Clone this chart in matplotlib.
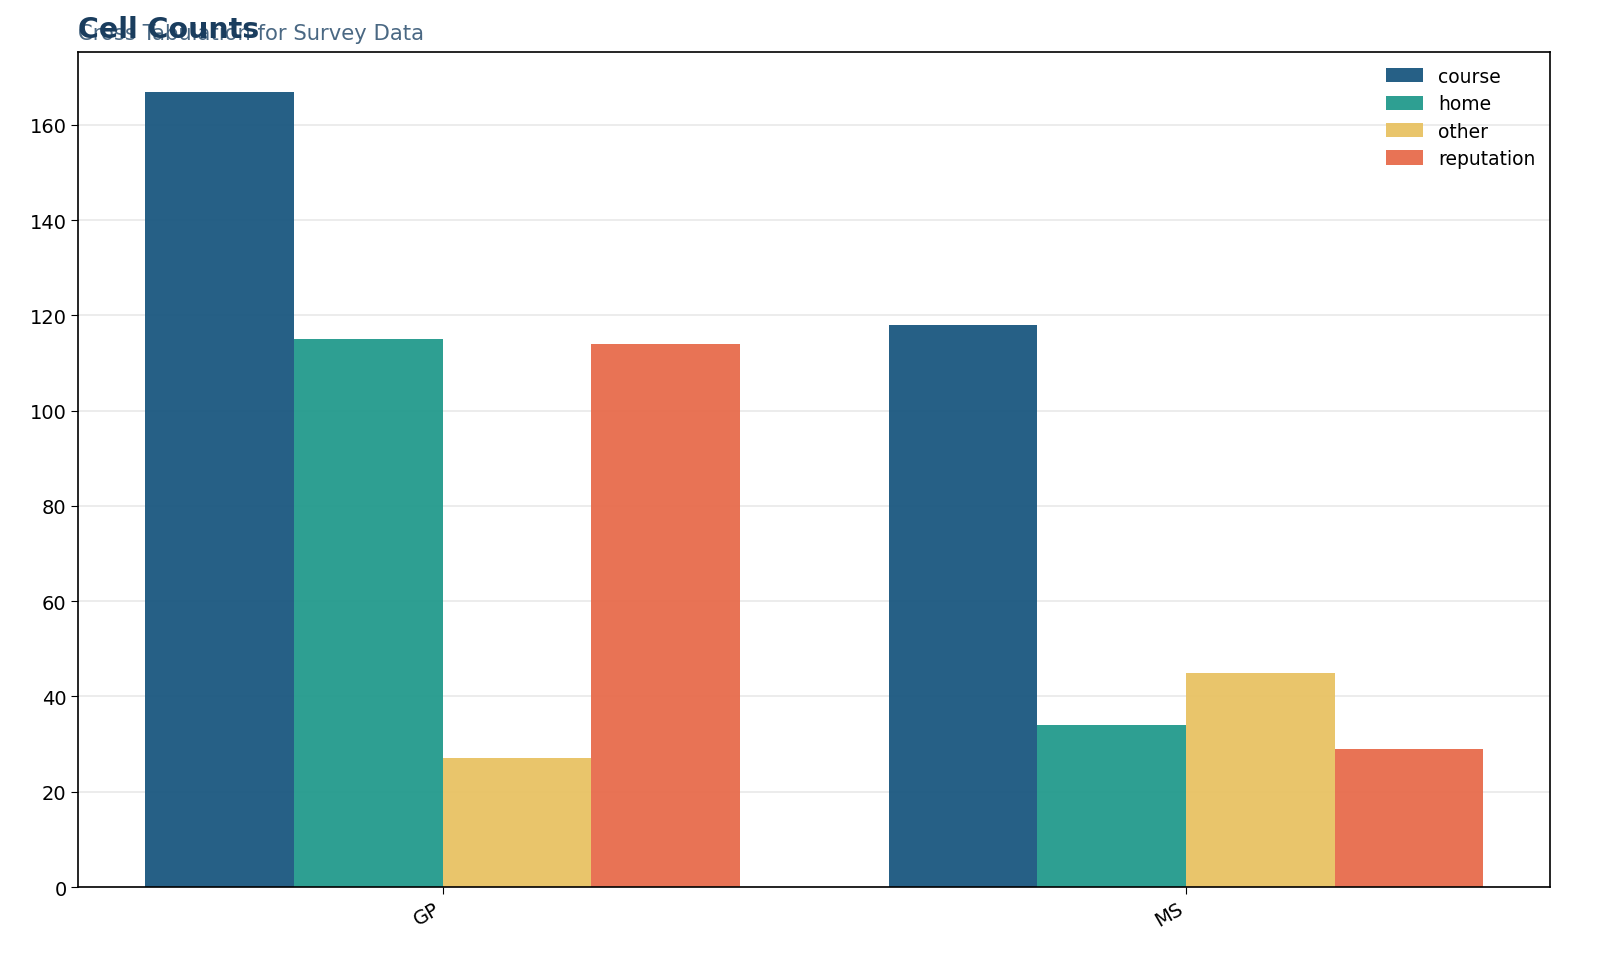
import numpy as np
import matplotlib.pyplot as plt

schools = ['GP', 'MS']
reasons = ['course', 'home', 'other', 'reputation']
course = [167, 118]
home = [115, 34]
other = [27, 45]
reputation = [114, 29]
colors = ['#1a5780', '#239a8c', '#e8c263', '#e76b4c']

counts = [course, home, other, reputation]

fig, ax = plt.subplots(figsize=(16, 9.78), dpi=100)
fig.subplots_adjust(left=0.049, right=0.969, top=0.946, bottom=0.092)

x = np.arange(len(schools))
width = 0.2
for i, (name, vals) in enumerate(zip(reasons, counts)):
    ax.bar(x - 0.3 + i * width, vals, width, label=name, color=colors[i],
           alpha=0.95, linewidth=0, zorder=2)

ax.set_xlim(-0.49, 1.49)
ax.set_ylim(0, max(course) * 1.05)
ax.set_xticks(x)
ax.set_xticklabels(schools, rotation=30, ha='right')
ax.tick_params(axis='both', labelsize=14, length=5)
ax.yaxis.grid(True, color='#e9e9e9', linewidth=1.2)
ax.set_axisbelow(True)
for s in ax.spines.values():
    s.set_linewidth(1.2)

ax.legend(frameon=False, fontsize=13.5, loc='upper right', handlelength=2.0,
          handleheight=0.8, labelspacing=0.45, borderaxespad=0.4)

fig.text(0.049, 0.959, 'Cross Tabulation for Survey Data', fontsize=15.2,
         color='#4a6883', ha='left', va='baseline')
fig.text(0.049, 0.961, 'Cell Counts', fontsize=20.5, fontweight='bold',
         color='#1a3d5e', ha='left', va='baseline')

plt.savefig('out.png')
